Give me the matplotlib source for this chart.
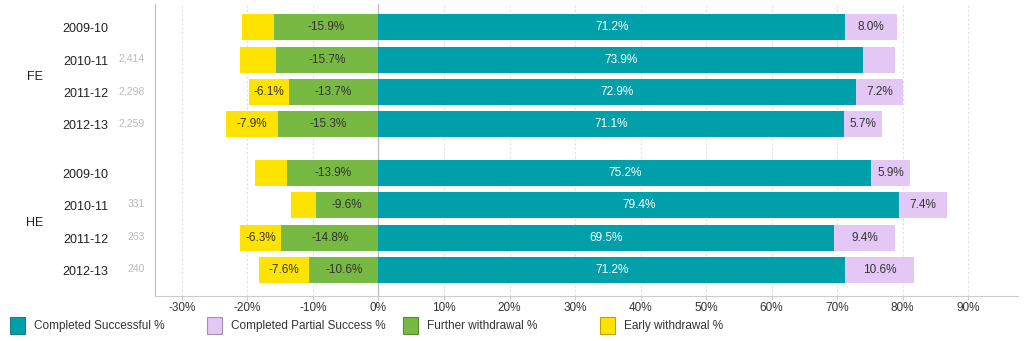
import matplotlib.pyplot as plt
from matplotlib.patches import Rectangle

plt.rcParams['font.family'] = ['Liberation Sans', 'DejaVu Sans']

groups = ['FE', 'HE']
years = ['2009-10', '2010-11', '2011-12', '2012-13']
counts = {'FE': ['', '2,414', '2,298', '2,259'],
          'HE': ['', '331', '263', '240']}

completed = {'FE': [71.2, 73.9, 72.9, 71.1], 'HE': [75.2, 79.4, 69.5, 71.2]}
partial = {'FE': [8.0, 4.9, 7.2, 5.7], 'HE': [5.9, 7.4, 9.4, 10.6]}
further = {'FE': [-15.9, -15.7, -13.7, -15.3], 'HE': [-13.9, -9.6, -14.8, -10.6]}
early = {'FE': [-4.9, -5.4, -6.1, -7.9], 'HE': [-4.9, -3.7, -6.3, -7.6]}

c_teal = '#00A0AB'
c_lilac = '#E3C7F4'
c_green = '#78B943'
c_yellow = '#FFE300'
txt = '#333333'

fig = plt.figure(figsize=(10.28, 3.41), dpi=100)
ax = fig.add_axes([155 / 1028, 1 - 296 / 341, (1018 - 155) / 1028, (296 - 4) / 341])

h = 0.8
min_label = 5.5
for gi, g in enumerate(groups):
    for yi, yr in enumerate(years):
        y = gi * 4.5 + yi
        comp, part = completed[g][yi], partial[g][yi]
        fw, ew = further[g][yi], early[g][yi]
        ax.barh(y, comp, height=h, color=c_teal, zorder=3)
        ax.barh(y, part, left=comp, height=h, color=c_lilac, zorder=3)
        ax.barh(y, fw, height=h, color=c_green, zorder=3)
        ax.barh(y, ew, left=fw, height=h, color=c_yellow, zorder=3)
        ax.text(comp / 2, y, f'{comp:.1f}%', color='white', ha='center', va='center', fontsize=8.5, zorder=4)
        if abs(part) >= min_label:
            ax.text(comp + part / 2, y, f'{part:.1f}%', color=txt, ha='center', va='center', fontsize=8.5, zorder=4)
        ax.text(fw / 2, y, f'{fw:.1f}%', color=txt, ha='center', va='center', fontsize=8.5, zorder=4)
        if abs(ew) >= min_label:
            ax.text(fw + ew / 2, y, f'{ew:.1f}%', color=txt, ha='center', va='center', fontsize=8.5, zorder=4)
        # year and count labels to the left of the axes
        ax.annotate(yr, xy=(0, y), xycoords=('axes fraction', 'data'), xytext=(-47, -2),
                    textcoords='offset pixels', ha='right', va='center', fontsize=9, color='#222222')
        if counts[g][yi]:
            ax.annotate(counts[g][yi], xy=(0, y), xycoords=('axes fraction', 'data'), xytext=(-10, 1),
                        textcoords='offset pixels', ha='right', va='center', fontsize=7.5, color='#BBBBBB')
    ax.annotate(g, xy=(0, gi * 4.5 + 1.5), xycoords=('axes fraction', 'data'), xytext=(-120, -1),
                textcoords='offset pixels', ha='center', va='center', fontsize=9, color='#222222')

ax.set_xlim(-34.1, 97.6)
ax.set_ylim(8.3, -0.72)
ax.set_yticks([])
ticks = list(range(-30, 100, 10))
ax.set_xticks(ticks)
ax.set_xticklabels([f'{t}%' for t in ticks], fontsize=8.5, color='#333333')
ax.tick_params(axis='x', length=3, color='#CCCCCC', pad=1)
for t in ticks:
    if t == 0:
        ax.axvline(t, color='#BBBBBB', lw=0.9, zorder=1)
    else:
        ax.axvline(t, color='#E0E0E0', lw=0.8, ls=(0, (2, 2)), zorder=1)

for s in ['top', 'right']:
    ax.spines[s].set_visible(False)
ax.spines['left'].set_color('#BBBBBB')
ax.spines['bottom'].set_color('#CCCCCC')

# legend along the bottom edge
legend_items = [('Completed Successful %', c_teal, '#1F7C84', 10),
                ('Completed Partial Success %', c_lilac, '#A48FB2', 207),
                ('Further withdrawal %', c_green, '#5A8A33', 403),
                ('Early withdrawal %', c_yellow, '#B8A200', 600)]
for label, face, edge, x in legend_items:
    fig.add_artist(Rectangle((x / 1028, 1 - 334 / 341), 15 / 1028, 17 / 341,
                             transform=fig.transFigure, facecolor=face, edgecolor=edge, lw=0.8))
    fig.text((x + 24) / 1028, 1 - 326 / 341, label, ha='left', va='center', fontsize=8.5, color='#333333')

fig.savefig('out.png', dpi=100)
